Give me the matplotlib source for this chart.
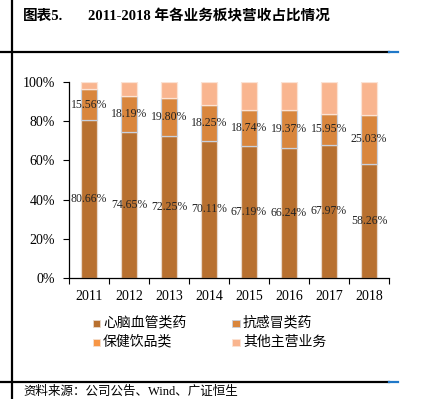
import numpy as np
import matplotlib
matplotlib.use('Agg')
from matplotlib import pyplot as plt
from matplotlib.lines import Line2D
from matplotlib.patches import Rectangle

plt.rcParams['font.family'] = ['Liberation Serif', 'Noto Sans CJK SC', 'DejaVu Sans']

#---- data (shares in %)
years = ['2011', '2012', '2013', '2014', '2015', '2016', '2017', '2018']
series_names = ['心脑血管类药', '抗感冒类药', '保健饮品类', '其他主营业务']
cardio = [80.66, 74.65, 72.25, 70.11, 67.19, 66.24, 67.97, 58.26]
cold = [15.56, 18.19, 19.80, 18.25, 18.74, 19.37, 15.95, 25.03]
health = [0, 0, 0, 0, 0, 0, 0, 0]
other = [3.78, 7.16, 7.95, 11.64, 14.07, 14.39, 16.08, 16.71]

colors = ['#B8702F', '#D9863D', '#F79646', '#F9B58F']
edges = ['#E9D8CA', '#C9D1DE', '#F5E0D0', '#FBE3D5']

W, H = 421, 399


def fx(px):
    return px / W


def fy(py):
    return 1 - py / H


def plot_data(ax):
    x = np.arange(len(years))
    bottom = np.zeros(len(years))
    conts = []
    for vals, c, e in zip([cardio, cold, health, other], colors, edges):
        v = np.array(vals) / 100.0
        bc = ax.bar(x, v, 0.42, bottom=bottom, color=c, edgecolor=e,
                    linewidth=0.9, zorder=2)
        conts.append(bc)
        bottom = bottom + v

    for bc, vals in zip(conts[:2], [cardio, cold]):
        ax.bar_label(bc, labels=['%.2f%%' % v for v in vals], label_type='center',
                     fontsize=8.5, color='#222222', zorder=3)

    ax.set_xlim(-0.5, len(years) - 0.5)
    ax.set_ylim(0, 1)
    ax.set_yticks(np.arange(0, 1.01, 0.2))
    ax.set_yticklabels(['%d%%' % round(t * 100) for t in np.arange(0, 1.01, 0.2)])
    ax.set_xticks(x)
    ax.set_xticklabels(years)
    ax.set_xticks(np.arange(-0.5, len(years)), minor=True)
    ax.tick_params(axis='x', which='major', length=0, pad=9, labelsize=10)
    ax.tick_params(axis='x', which='minor', length=4, width=0.8, direction='out')
    ax.tick_params(axis='y', length=4, width=0.8, direction='out', pad=6, labelsize=10)

    for s in ['top', 'right']:
        ax.spines[s].set_visible(False)
    for s in ['left', 'bottom']:
        ax.spines[s].set_linewidth(0.9)
        ax.spines[s].set_color('black')
    return ax


if __name__ == '__main__':

    fig = plt.figure(figsize=(4.21, 3.99), dpi=100)
    ax = fig.add_axes([fx(69), fy(278), fx(389) - fx(69), fy(82) - fy(278)])
    plot_data(ax)

    #---> page frame lines
    fig.add_artist(Line2D([fx(12), fx(12)], [0, 1], color='black', lw=1.6))
    for py in [52, 382]:
        fig.add_artist(Line2D([0, fx(389)], [fy(py), fy(py)], color='black', lw=1.6))
        fig.add_artist(Line2D([fx(389), fx(398)], [fy(py), fy(py)], color='#1F78C8', lw=1.6))

    #---> title
    fig.text(fx(23), fy(16), '图表5.', fontsize=10.5, fontweight='bold', va='center', ha='left')
    fig.text(fx(88), fy(16), '2011-2018 年各业务板块营收占比情况', fontsize=10.5,
             fontweight='bold', va='center', ha='left')

    #---> legend
    leg_pos = [(96, 323), (236, 323), (96, 342), (236, 342)]
    leg_order = [0, 1, 2, 3]
    for (px, py), i in zip(leg_pos, leg_order):
        fig.add_artist(Rectangle((fx(px - 3.5), fy(py + 3.5)), fx(7), 7 / H,
                                 facecolor=colors[i], edgecolor=edges[i], lw=0.6,
                                 transform=fig.transFigure))
        fig.text(fx(px + 7), fy(py), series_names[i], fontsize=10, va='center', ha='left')

    #---> source
    fig.text(fx(23), fy(398), '资料来源：公司公告、Wind、广证恒生', fontsize=9,
             va='bottom', ha='left')

    plt.savefig('out.png', dpi=100)
